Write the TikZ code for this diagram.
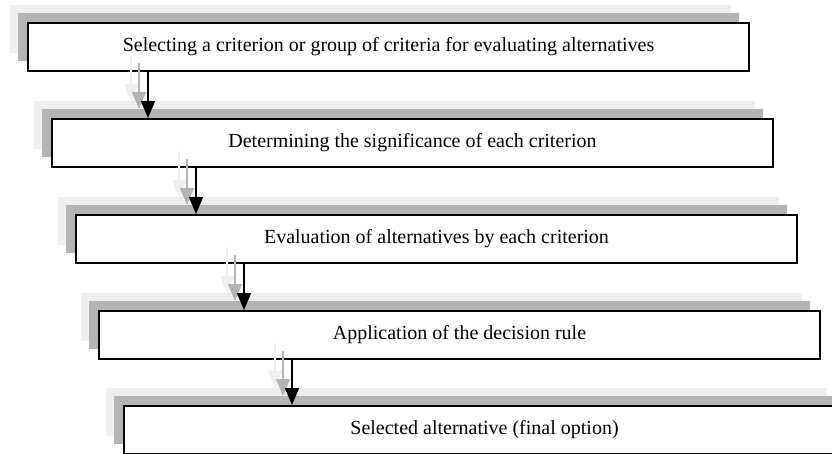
\documentclass[tikz,border=0pt]{standalone}
\usepackage{fontspec}
\setmainfont{Liberation Serif}
\usetikzlibrary{arrows.meta}

\definecolor{shadowdark}{HTML}{B4B4B4}
\definecolor{shadowlight}{HTML}{EFEFEF}

\tikzset{
  stagebox/.style={draw=black, line width=2pt, fill=white,
    minimum width=721pt, minimum height=48pt, inner sep=0pt,
    font=\fontsize{20pt}{24pt}\selectfont, anchor=north west},
  flowarrow/.style={draw=#1, line width=1.6pt,
    -{Triangle[width=14pt,length=17pt,fill=#1]}},
  farshadow/.style={transform canvas={xshift=-17pt,yshift=17pt}},
  nearshadow/.style={transform canvas={xshift=-9pt,yshift=9pt}},
}

\begin{document}
\begin{tikzpicture}[x=1pt,y=-1pt]
\useasboundingbox (0,0) rectangle (832,454);
\clip (0,0) rectangle (832,454);

% two-layer drop shadows behind each stage
\foreach \x/\y in {27/22, 51/118, 75/214, 98/310, 123/405}{
  \fill[shadowlight] (\x-17,\y-17) rectangle ++(721,48);
  \fill[shadowdark]  (\x-9,\y-9)   rectangle ++(721,48);
}

% stages of the procedure
\node[stagebox] (b1) at (27,22)  {Selecting a criterion or group of criteria for evaluating alternatives};
\node[stagebox] (b2) at (51,118) {Determining the significance of each criterion};
\node[stagebox] (b3) at (75,214) {Evaluation of alternatives by each criterion};
\node[stagebox] (b4) at (98,310) {Application of the decision rule};
\node[stagebox] (b5) at (123,405) {Selected alternative (final option)};

% horizontal positions of the connecting arrows
\coordinate (a1) at (148,0);
\coordinate (a2) at (196,0);
\coordinate (a3) at (244,0);
\coordinate (a4) at (292,0);

% arrows with their shadows
\foreach \u/\v/\a in {b1/b2/a1, b2/b3/a2, b3/b4/a3, b4/b5/a4}{
  \draw[flowarrow=shadowlight, farshadow] (\u.south -| \a) -- (\v.north -| \a);
  \draw[flowarrow=shadowdark, nearshadow] (\u.south -| \a) -- (\v.north -| \a);
  \draw[flowarrow=black] (\u.south -| \a) -- (\v.north -| \a);
}
\end{tikzpicture}
\end{document}
